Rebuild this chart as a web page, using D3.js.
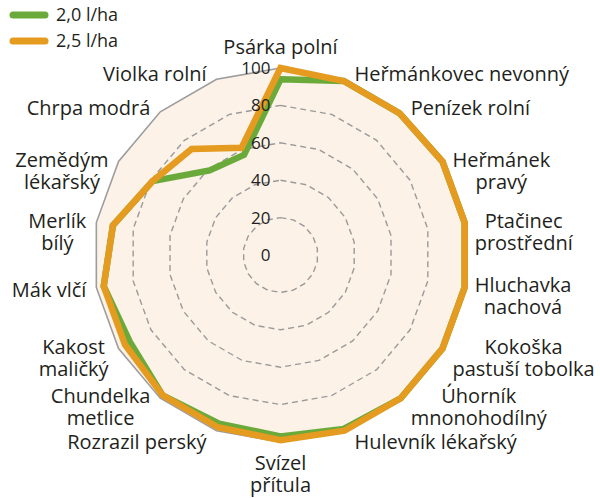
<!DOCTYPE html>
<html>
<head>
<meta charset="utf-8">
<script src="https://cdn.jsdelivr.net/npm/d3@7"></script>
<style>
  html, body { margin: 0; padding: 0; background: #fff; }
  text { font-family: "Open Sans", "Noto Sans", sans-serif; fill: #231f20; }
</style>
</head>
<body>
<div id="chart"></div>
<script>
const categories = [
  "Psárka polní",
  "Heřmánkovec nevonný",
  "Penízek rolní",
  "Heřmánek\npravý",
  "Ptačinec\nprostřední",
  "Hluchavka\nnachová",
  "Kokoška\npastuší tobolka",
  "Úhorník\nmnonohodílný",
  "Hulevník lékařský",
  "Svízel\npřítula",
  "Rozrazil perský",
  "Chundelka\nmetlice",
  "Kakost\nmaličký",
  "Mák vlčí",
  "Merlík\nbílý",
  "Zemědým\nlékařský",
  "Chrpa modrá",
  "Violka rolní",
];

const dose20 = [94, 99, 99, 100, 100, 100, 100, 100, 99, 97, 96, 98, 93, 96, 91, 79, 59, 57];
const dose25 = [100, 99, 99, 100, 100, 100, 100, 100, 100, 99, 98, 98, 96, 96, 91, 79, 74, 61];

const ticks = [0, 20, 40, 60, 80, 100];

const seriesNames = ["2,0 l/ha", "2,5 l/ha"];
const seriesColors = ["#6aaa3a", "#e49b1f"];

const width = 600;
const height = 498;
const cx = 280.5;
const cy = 255;
const R = 187;

const svg = d3
  .select("#chart")
  .append("svg")
  .attr("width", width)
  .attr("height", height);

const n = categories.length;
const angle = d3
  .scaleLinear()
  .domain([0, n])
  .range([0, 2 * Math.PI]);

const r = d3.scaleLinear().domain([0, 100]).range([0, R]);

const radial = d3
  .lineRadial()
  .angle((d, i) => angle(i))
  .radius((d) => r(d))
  .curve(d3.curveLinearClosed);

const g = svg.append("g").attr("transform", `translate(${cx},${cy})`);

// plot area fill + outer ring
g.append("path")
  .attr("d", radial(categories.map(() => 100)))
  .attr("fill", "#fcf2e8")
  .attr("stroke", "#9d9d9d")
  .attr("stroke-width", 1.6);

// dashed grid rings
g.append("g")
  .selectAll("path")
  .data(ticks.filter((t) => t > 0 && t < 100))
  .enter()
  .append("path")
  .attr("d", (t) => radial(categories.map(() => t)))
  .attr("fill", "none")
  .attr("stroke", "#9a9a9a")
  .attr("stroke-width", 1.4)
  .attr("stroke-dasharray", "6,4");

// series
const series = [dose20, dose25];
g.append("g")
  .selectAll("path")
  .data(series)
  .enter()
  .append("path")
  .attr("d", (d) => radial(d))
  .attr("fill", "none")
  .attr("stroke", (d, i) => seriesColors[i])
  .attr("stroke-width", 6.5)
  .attr("stroke-linejoin", "miter");

// tick labels
g.append("g")
  .selectAll("text")
  .data(ticks)
  .enter()
  .append("text")
  .attr("x", -10)
  .attr("y", (t) => -r(t))
  .attr("dy", "0.35em")
  .attr("text-anchor", "end")
  .attr("font-size", "17px")
  .text((t) => t);

// category labels
const lineH = 22;
categories.forEach((name, i) => {
  const a = angle(i);
  const sx = Math.sin(a);
  const cs = Math.cos(a);
  const vx = r(100) * sx;
  const vy = -r(100) * cs;
  const lines = name.split("\n");

  const t = g.append("text").attr("font-size", "20px");
  lines.forEach((l) => t.append("tspan").text(l));
  const tsp = t.selectAll("tspan");
  const widths = [];
  tsp.each(function () {
    widths.push(this.getComputedTextLength());
  });
  const w = d3.max(widths);
  const h = lines.length * lineH;

  let midX, midY;
  if (Math.abs(sx) < 0.1) {
    midX = vx;
    midY = cs > 0 ? vy - 10 - h / 2 : vy + 10 + h / 2;
  } else {
    midX = sx > 0 ? vx + 10 + w / 2 : vx - 10 - w / 2;
    midY = lines.length > 1 ? vy + 9 : vy - cs * (cs > 0 ? 5.5 : 12);
  }

  tsp
    .attr("x", midX)
    .attr("y", (d, k) => midY - h / 2 + lineH / 2 + k * lineH)
    .attr("dy", "0.35em")
    .attr("text-anchor", "middle");
});

// legend
const legend = svg.append("g").attr("transform", "translate(13, 15)");
legend
  .selectAll("g")
  .data(seriesNames)
  .enter()
  .append("g")
  .attr("transform", (d, i) => `translate(0, ${i * 26})`)
  .each(function (d, i) {
    const lg = d3.select(this);
    lg.append("line")
      .attr("x1", 0)
      .attr("x2", 32)
      .attr("stroke", seriesColors[i])
      .attr("stroke-width", 7)
      .attr("stroke-linecap", "round");
    lg.append("text")
      .attr("x", 43)
      .attr("dy", "0.35em")
      .attr("font-size", "18px")
      .text(d);
  });
</script>
</body>
</html>
